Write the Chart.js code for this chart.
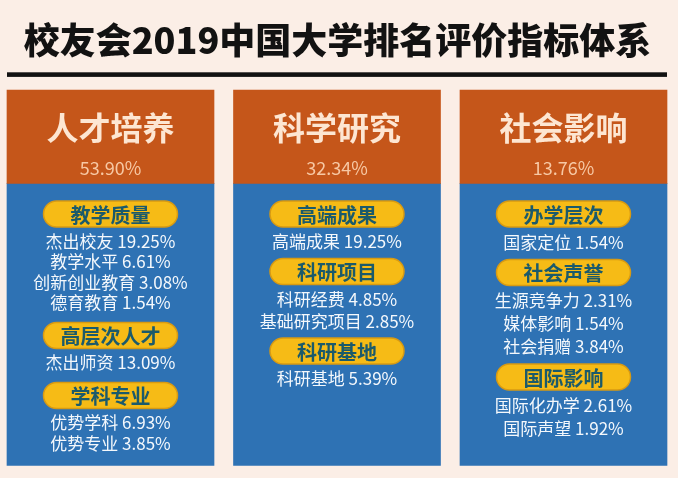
<!DOCTYPE html>
<html>
<head>
<meta charset="utf-8">
<script src="https://cdn.jsdelivr.net/npm/chart.js@4.4.1/dist/chart.umd.min.js"></script>
<style>
  html, body { margin: 0; padding: 0; background: #fbeee6; }
  #wrap { width: 678px; height: 478px; }
</style>
</head>
<body>
<div id="wrap"><canvas id="c" width="678" height="478"></canvas></div>
<script>
// ---------- data ----------
const chartTitle = '校友会2019中国大学排名评价指标体系';
const groups = ['人才培养', '科学研究', '社会影响'];
const groupWeights = [53.90, 32.34, 13.76];
const subgroups = [
  ['教学质量', '高层次人才', '学科专业'],
  ['高端成果', '科研项目', '科研基地'],
  ['办学层次', '社会声誉', '国际影响']
];
const indicatorNames = [
  [['杰出校友', '教学水平', '创新创业教育', '德育教育'], ['杰出师资'], ['优势学科', '优势专业']],
  [['高端成果'], ['科研经费', '基础研究项目'], ['科研基地']],
  [['国家定位'], ['生源竞争力', '媒体影响', '社会捐赠'], ['国际化办学', '国际声望']]
];
const indicatorValues = [
  [[19.25, 6.61, 3.08, 1.54], [13.09], [6.93, 3.85]],
  [[19.25], [4.85, 2.85], [5.39]],
  [[1.54], [2.31, 1.54, 3.84], [2.61, 1.92]]
];

// ---------- layout / style (not data) ----------
const PANEL = 375.5;      // panel height in y-scale units
const HEADER = 93.3;      // header height in y-scale units
const FONT = '"Noto Sans CJK SC", "Noto Sans", sans-serif';
const colLayout = [
  { p2i: 27.5, step: 20.5, i2p: 32.5 },
  { p2i: 28,   step: 22,   i2p: 29.5 },
  { p2i: 28.5, step: 23,   i2p: 30 }
];

const textPlugin = {
  id: 'infoText',
  beforeDraw(chart) {
    const ctx = chart.ctx;
    ctx.save();
    ctx.fillStyle = '#fbeee6';
    ctx.fillRect(0, 0, chart.width, chart.height);
    // title
    ctx.fillStyle = '#121212';
    ctx.textAlign = 'center';
    ctx.textBaseline = 'middle';
    ctx.font = '900 36px ' + FONT;
    ctx.fillText(chartTitle, 337.5, 40);
    // rule under the title
    ctx.fillRect(7, 72.3, 660, 4.6);
    ctx.restore();
  },
  afterDatasetsDraw(chart) {
    const ctx = chart.ctx;
    const xs = chart.scales.x, ys = chart.scales.y;
    ctx.save();
    ctx.textAlign = 'center';
    ctx.textBaseline = 'middle';
    groups.forEach((g, ci) => {
      const cx = xs.getPixelForValue(ci);
      // header
      ctx.fillStyle = '#fde6d2';
      ctx.font = 'bold 32px ' + FONT;
      ctx.fillText(g, cx, ys.getPixelForValue(38));
      ctx.fillStyle = '#f7c8a4';
      ctx.font = '18px ' + FONT;
      ctx.fillText(groupWeights[ci].toFixed(2) + '%', cx, ys.getPixelForValue(78));
      // body
      const L = colLayout[ci];
      let pos = 124;
      subgroups[ci].forEach((sg, si) => {
        if (si > 0) pos += L.i2p;
        const py = ys.getPixelForValue(pos);
        const w = 134, h = 26;
        ctx.beginPath();
        ctx.roundRect(cx - w / 2, py - h / 2, w, h, h / 2);
        ctx.fillStyle = '#f6bb16';
        ctx.fill();
        ctx.lineWidth = 1.5;
        ctx.strokeStyle = '#d89a12';
        ctx.stroke();
        ctx.fillStyle = '#1b5a6b';
        ctx.font = 'bold 20px ' + FONT;
        ctx.fillText(sg, cx, py + 1);
        pos += L.p2i;
        indicatorNames[ci][si].forEach((nm, ii) => {
          if (ii > 0) pos += L.step;
          ctx.fillStyle = '#f4f8fc';
          ctx.font = '17px ' + FONT;
          ctx.fillText(nm + ' ' + indicatorValues[ci][si][ii].toFixed(2) + '%', cx, ys.getPixelForValue(pos));
        });
      });
    });
    ctx.restore();
  }
};

new Chart(document.getElementById('c'), {
  type: 'bar',
  data: {
    labels: groups,
    datasets: [
      { label: 'header', data: groups.map(() => [0, HEADER]), backgroundColor: '#c5561a',
        barThickness: 207, grouped: false, clip: false, borderWidth: 0 },
      { label: 'body', data: groups.map(() => [HEADER, PANEL]), backgroundColor: '#2e72b4',
        barThickness: 207, grouped: false, clip: false, borderWidth: 0 }
    ]
  },
  options: {
    responsive: false,
    animation: false,
    events: [],
    layout: { padding: { left: 110.5, right: 114.5, top: 90, bottom: 12.5 } },
    scales: {
      x: { type: 'category', offset: false, display: false },
      y: { type: 'linear', min: 0, max: PANEL, reverse: true, display: false }
    },
    plugins: {
      legend: { display: false },
      tooltip: { enabled: false },
      title: { display: false }
    }
  },
  plugins: [textPlugin]
});
</script>
</body>
</html>
